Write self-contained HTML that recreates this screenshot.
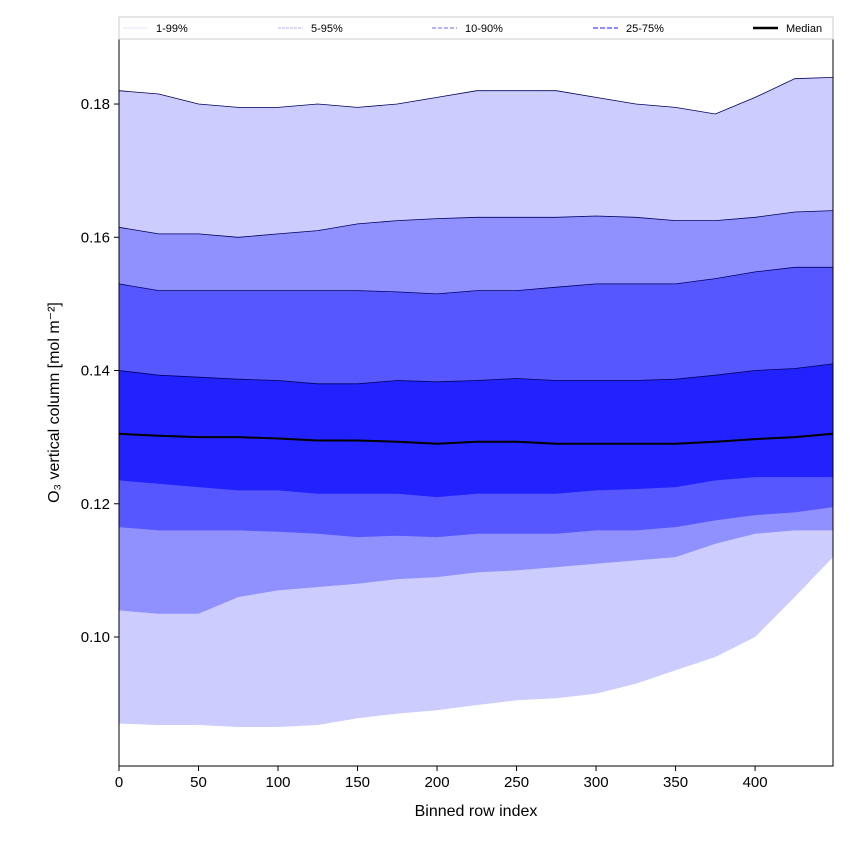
<!DOCTYPE html>
<html><head><meta charset="utf-8"><style>
body{margin:0;background:#fff;width:850px;height:850px;overflow:hidden}
text{font-family:"Liberation Sans","DejaVu Sans",sans-serif;fill:#000}
</style></head><body>
<svg id="chart" width="850" height="850" xmlns="http://www.w3.org/2000/svg"></svg>
<script>
const xs=[0,25,50,75,100,125,150,175,200,225,250,275,300,325,350,375,400,425,449];
const p99=[0.182,0.1815,0.180,0.1795,0.1795,0.180,0.1795,0.180,0.181,0.182,0.182,0.182,0.181,0.180,0.1795,0.1785,0.181,0.1838,0.184];
const p95=[0.1615,0.1605,0.1605,0.160,0.1605,0.161,0.162,0.1625,0.1628,0.163,0.163,0.163,0.1632,0.163,0.1625,0.1625,0.163,0.1638,0.164];
const p90=[0.153,0.152,0.152,0.152,0.152,0.152,0.152,0.1518,0.1515,0.152,0.152,0.1525,0.153,0.153,0.153,0.1538,0.1548,0.1555,0.1555];
const p75=[0.140,0.1393,0.139,0.1387,0.1385,0.138,0.138,0.1385,0.1383,0.1385,0.1388,0.1385,0.1385,0.1385,0.1387,0.1393,0.140,0.1403,0.141];
const med=[0.1305,0.1302,0.130,0.130,0.1298,0.1295,0.1295,0.1293,0.129,0.1293,0.1293,0.129,0.129,0.129,0.129,0.1293,0.1297,0.130,0.1305];
const p25=[0.1235,0.123,0.1225,0.122,0.122,0.1215,0.1215,0.1215,0.121,0.1215,0.1215,0.1215,0.122,0.1222,0.1225,0.1235,0.124,0.124,0.124];
const p10=[0.1165,0.116,0.116,0.116,0.1158,0.1155,0.115,0.1152,0.115,0.1155,0.1155,0.1155,0.116,0.116,0.1165,0.1175,0.1183,0.1187,0.1195];
const p5=[0.104,0.1035,0.1035,0.106,0.107,0.1075,0.108,0.1087,0.109,0.1097,0.110,0.1105,0.111,0.1115,0.112,0.114,0.1155,0.116,0.116];
const p1=[0.087,0.0868,0.0868,0.0865,0.0865,0.0868,0.0878,0.0885,0.089,0.0898,0.0905,0.0908,0.0915,0.093,0.095,0.097,0.100,0.106,0.112];
const xTicks=[0,50,100,150,200,250,300,350,400];
const yTicks=[0.10,0.12,0.14,0.16,0.18];
const legendLabels=["1-99%","5-95%","10-90%","25-75%","Median"];

const L=119,R=833,T=39,B=766,X0=0,X1=449,Y0=0.08064,Y1=0.18976;
const sx=v=>L+(v-X0)/(X1-X0)*(R-L);
const sy=v=>B-(v-Y0)/(Y1-Y0)*(B-T);
const svg=document.getElementById('chart');
const NS='http://www.w3.org/2000/svg';
function mk(tag,attrs,parent){const e=document.createElementNS(NS,tag);for(const k in attrs)e.setAttribute(k,attrs[k]);(parent||svg).appendChild(e);return e;}
function line(arr){return arr.map((v,i)=>(i?'L':'M')+sx(xs[i]).toFixed(1)+','+sy(v).toFixed(1)).join('');}
function band(lo,hi){return line(hi)+lo.slice().reverse().map((v,j)=>{const i=lo.length-1-j;return 'L'+sx(xs[i]).toFixed(1)+','+sy(v).toFixed(1);}).join('')+'Z';}
const bands=[[p1,p99,'#ccccff','band-1-99'],[p5,p95,'#9090ff','band-5-95'],[p10,p90,'#5757ff','band-10-90'],[p25,p75,'#2222ff','band-25-75']];
bands.forEach(b=>{const e=mk('path',{d:band(b[0],b[1]),fill:b[2]});

});
[p99,p95,p90,p75].forEach((a,i)=>{const e=mk('path',{d:line(a),fill:'none',stroke:'#000060','stroke-width':0.8});

});
const m=mk('path',{d:line(med),fill:'none',stroke:'#000','stroke-width':2});


const fr=mk('rect',{x:L,y:T,width:R-L,height:B-T,fill:'none',stroke:'#000','stroke-width':1});


xTicks.forEach(t=>{mk('line',{x1:sx(t),x2:sx(t),y1:B,y2:B+5,stroke:'#000'});
const tx=mk('text',{x:sx(t),y:B+21,'text-anchor':'middle','font-size':15});tx.textContent=t;

});
yTicks.forEach(t=>{mk('line',{x1:L-5,x2:L,y1:sy(t),y2:sy(t),stroke:'#000'});
const tx=mk('text',{x:L-9,y:sy(t)+5,'text-anchor':'end','font-size':15});tx.textContent=t.toFixed(2);

});
const xt=mk('text',{x:(L+R)/2,y:816,'text-anchor':'middle','font-size':16});xt.textContent='Binned row index';


const yt=mk('text',{x:0,y:0,'text-anchor':'middle','font-size':16,transform:'translate(59,'+((T+B)/2)+') rotate(-90)'});yt.textContent='O\u2083 vertical column [mol m\u207B\u00B2]';


// legend
const lg=mk('g',{});


mk('rect',{x:L,y:17,width:R-L,height:22,fill:'#fff',stroke:'#ccc'},lg);
const lx=[123,278,432,593,753];
const ls=[['#ddddff',0.8,'none'],['#9999ee',0.8,'3,1'],['#8888ee',1.2,'4,2'],['#6666ff',1.6,'5,2'],['#000',2.4,'none']];
legendLabels.forEach((lab,i)=>{const g=mk('g',{},lg);


mk('line',{x1:lx[i],x2:lx[i]+25,y1:28,y2:28,stroke:ls[i][0],'stroke-width':ls[i][1],'stroke-dasharray':ls[i][2]},g);
const t=mk('text',{x:lx[i]+33,y:32,'font-size':11},g);t.textContent=lab;});
</script>
</body></html>
